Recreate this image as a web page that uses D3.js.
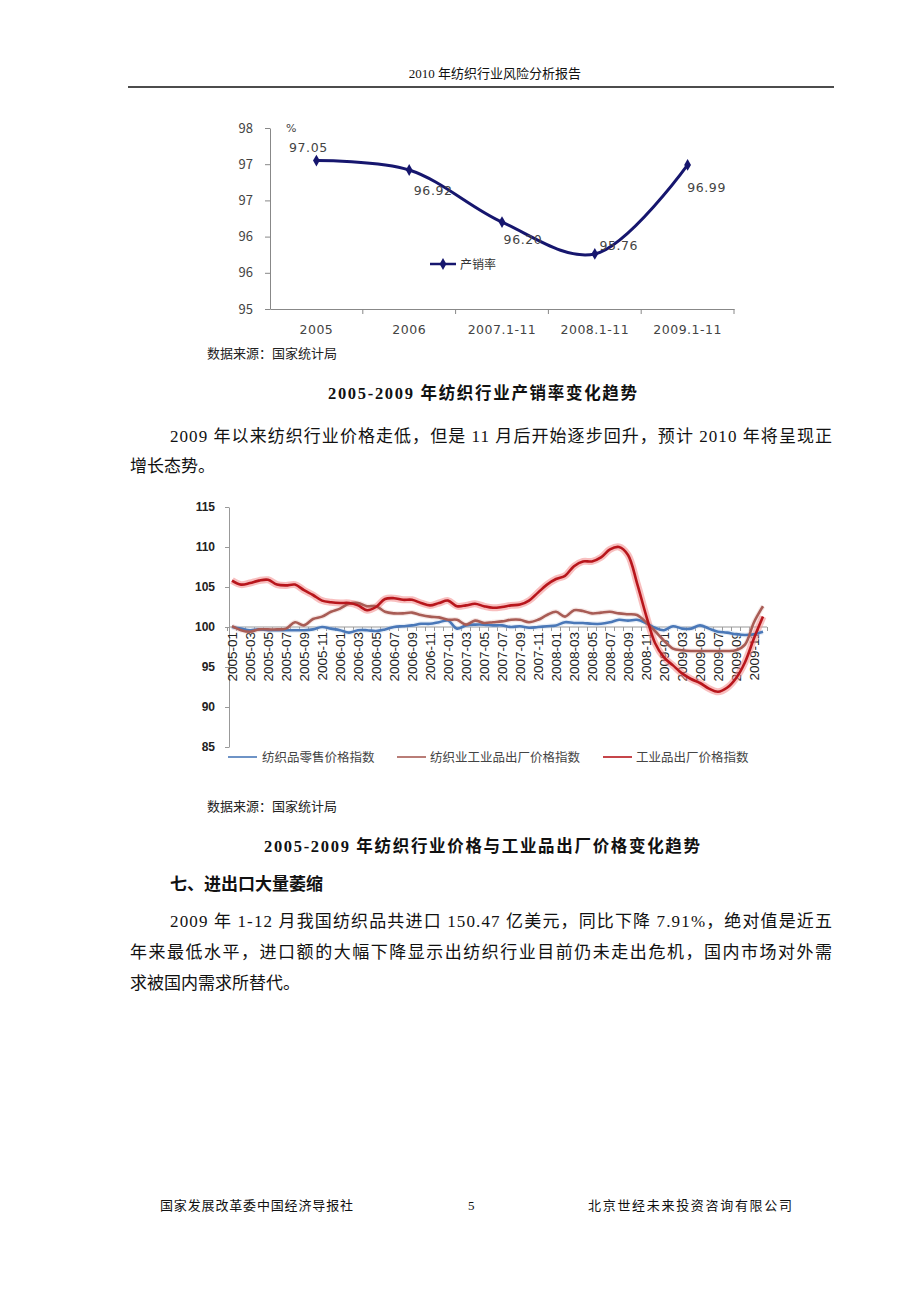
<!DOCTYPE html>
<html>
<head>
<meta charset="utf-8">
<script src="https://cdn.jsdelivr.net/npm/d3@7"></script>
<style>
  body { margin: 0; background: #fff; }
  svg { display: block; }
  .doc { font-family: "Liberation Serif", "Noto Sans CJK SC", serif; fill: #111; }
  .cjk { font-family: "Noto Sans CJK SC", "Liberation Sans", sans-serif; }
</style>
</head>
<body>
<script>
// ---- chart 1 : 产销率 ----
const years1 = ["2005", "2006", "2007.1-11", "2008.1-11", "2009.1-11"];
const rate1 = [97.05, 96.92, 96.20, 95.76, 96.99];
const ticks1 = [95, 95.5, 96, 96.5, 97, 97.5];

// ---- chart 2 : 价格指数 (2005-01 .. 2009-12) ----
const months2 = [];
for (let y = 2005; y <= 2009; y++) for (let m = 1; m <= 12; m++) months2.push(y + "-" + (m < 10 ? "0" + m : m));
const retail2 = [100.0, 99.8, 99.6, 99.7, 99.6, 99.6, 99.6, 99.6, 99.6, 99.7, 100.0, 99.8,
                 99.6, 99.3, 99.6, 99.6, 99.5, 99.7, 100.0, 100.1, 100.2, 100.4, 100.4, 100.6,
                 100.8, 99.8, 100.2, 100.3, 100.3, 100.2, 100.2, 100.0, 100.1, 99.9, 100.0, 100.1,
                 100.2, 100.6, 100.5, 100.5, 100.4, 100.4, 100.6, 100.9, 100.8, 100.9, 100.5, 99.9,
                 99.6, 100.1, 99.8, 99.8, 100.2, 99.8, 99.4, 99.3, 99.1, 99.0, 99.1, 99.4];
const textile2 = [100.1, 99.6, 99.4, 99.7, 99.7, 99.7, 99.8, 100.6, 100.2, 101.0, 101.3, 101.9,
                  102.3, 102.9, 103.0, 102.6, 102.6, 101.9, 101.7, 101.7, 101.8, 101.5, 101.3, 101.2,
                  100.9, 100.9, 100.3, 100.8, 100.5, 100.6, 100.7, 100.9, 100.9, 100.6, 100.9, 101.5,
                  101.9, 101.3, 102.1, 102.0, 101.7, 101.8, 101.9, 101.7, 101.6, 101.5, 100.6, 99.5,
                  98.3, 97.3, 97.1, 97.0, 97.0, 97.0, 97.0, 97.0, 97.1, 97.8, 100.6, 102.6];
const ppi2 = [105.8, 105.3, 105.5, 105.8, 105.9, 105.3, 105.2, 105.3, 104.6, 104.0, 103.3, 103.1,
              103.0, 103.0, 102.7, 102.1, 102.5, 103.5, 103.6, 103.4, 103.4, 103.0, 102.7, 103.0,
              103.3, 102.6, 102.7, 102.9, 102.6, 102.4, 102.5, 102.7, 102.8, 103.3, 104.3, 105.3,
              106.0, 106.4, 107.6, 108.2, 108.2, 108.7, 109.7, 110.0, 109.0, 105.5, 101.5, 98.0,
              96.2, 95.2, 94.2, 93.5, 93.0, 92.3, 91.9, 92.4, 93.6, 95.6, 98.6, 101.3];
const ticks2 = [85, 90, 95, 100, 105, 110, 115];
const series2 = [
  { name: "纺织品零售价格指数", values: retail2, color: "#4a78b8" },
  { name: "纺织业工业品出厂价格指数", values: textile2, color: "#a85c55" },
  { name: "工业品出厂价格指数", values: ppi2, color: "#b8161c" }
];

const svg = d3.select("body").append("svg")
  .attr("width", 920).attr("height", 1302);
svg.append("rect").attr("width", 920).attr("height", 1302).attr("fill", "#fff");

// ================= page text =================
const doc = svg.append("g").attr("class", "doc");
doc.append("text").attr("x", 495).attr("y", 78).attr("text-anchor", "middle")
  .attr("font-size", 13).text("2010 年纺织行业风险分析报告");
doc.append("line").attr("x1", 128).attr("x2", 834).attr("y1", 87).attr("y2", 87)
  .attr("stroke", "#111").attr("stroke-width", 1.6);

function docLine(txt, x, y, w, opts) {
  const t = doc.append("text").attr("x", x).attr("y", y)
    .attr("font-size", (opts && opts.size) || 17).text(txt);
  if (w) t.attr("textLength", w).attr("lengthAdjust", "spacing");
  if (opts && opts.bold) t.attr("font-weight", "bold");
  return t;
}
docLine("2005-2009 年纺织行业产销率变化趋势", 328, 399, 309, { bold: true, size: 16.5 });
docLine("2009 年以来纺织行业价格走低，但是 11 月后开始逐步回升，预计 2010 年将呈现正", 170, 442, 662);
docLine("增长态势。", 130, 472, null);
docLine("2005-2009 年纺织行业价格与工业品出厂价格变化趋势", 264, 852, 436, { bold: true, size: 16.5 });
docLine("七、进出口大量萎缩", 170, 890, null, { bold: true });
docLine("2009 年 1-12 月我国纺织品共进口 150.47 亿美元，同比下降 7.91%，绝对值是近五", 170, 927, 662);
docLine("年来最低水平，进口额的大幅下降显示出纺织行业目前仍未走出危机，国内市场对外需", 130, 958, 702);
docLine("求被国内需求所替代。", 130, 989, null);
docLine("国家发展改革委中国经济导报社", 160, 1210, 193, { size: 13 });
docLine("5", 468, 1210, null, { size: 13 });
docLine("北京世经未来投资咨询有限公司", 588, 1210, 204, { size: 13 });

// ================= chart 1 =================
svg.append("clipPath").attr("id", "clip1")
  .append("rect").attr("x", 150).attr("y", 110).attr("width", 620).attr("height", 227);
const c1 = svg.append("g").attr("clip-path", "url(#clip1)");

const x1 = d3.scaleBand().domain(years1).range([270, 734]);
const y1 = d3.scaleLinear().domain([95, 97.5]).range([309, 128]);

const axY1 = c1.append("g").attr("transform", "translate(270,0)")
  .call(d3.axisLeft(y1).tickValues(ticks1).tickFormat(d3.format(".0f")).tickSize(5).tickSizeOuter(0).tickPadding(12));
axY1.select(".domain").attr("stroke", "#888");
axY1.selectAll(".tick line").attr("stroke", "#888");
axY1.selectAll("text").attr("class", "cjk").attr("font-size", 13).attr("fill", "#444");

const axX1 = c1.append("g").attr("transform", "translate(0,309)")
  .call(d3.axisBottom(x1).tickSize(0).tickSizeOuter(0).tickPadding(16));
axX1.select(".domain").attr("stroke", "#888");
axX1.selectAll("text").attr("font-family", "DejaVu Sans").attr("font-size", 12.5)
  .attr("fill", "#444").attr("letter-spacing", 0.5);
// boundary ticks
c1.selectAll(".btick").data(years1.slice(1).concat(["end"])).join("line")
  .attr("x1", (d, i) => x1.range()[0] + x1.step() * (i + 1))
  .attr("x2", (d, i) => x1.range()[0] + x1.step() * (i + 1))
  .attr("y1", 309).attr("y2", 314).attr("stroke", "#888");

c1.append("text").attr("x", 286).attr("y", 132).attr("font-size", 11).attr("fill", "#444")
  .attr("font-family", "DejaVu Sans").text("%");

const line1 = d3.line()
  .x((d, i) => x1(years1[i]) + x1.bandwidth() / 2)
  .y(d => y1(d))
  .curve(d3.curveCatmullRom.alpha(0.5));
c1.append("path").datum(rate1).attr("d", line1)
  .attr("fill", "none").attr("stroke", "#16166e").attr("stroke-width", 3);

const diamond = d3.symbol().type(d3.symbolDiamond).size(40);
c1.selectAll(".pt").data(rate1).join("path")
  .attr("d", diamond)
  .attr("transform", (d, i) => `translate(${x1(years1[i]) + x1.bandwidth() / 2},${y1(d)})`)
  .attr("fill", "#16166e");

// data label offsets (layout only)
const lblOff1 = [[-8, -14], [24, 20], [21, 17], [24, -9], [19, 22]];
c1.selectAll(".lbl").data(rate1).join("text")
  .attr("x", (d, i) => x1(years1[i]) + x1.bandwidth() / 2 + lblOff1[i][0])
  .attr("y", (d, i) => y1(d) + lblOff1[i][1] + 5)
  .attr("text-anchor", "middle").attr("font-family", "DejaVu Sans")
  .attr("font-size", 12.5).attr("letter-spacing", 0.6).attr("fill", "#444")
  .text(d => d.toFixed(2));

// legend
c1.append("line").attr("x1", 430).attr("x2", 456).attr("y1", 264).attr("y2", 264)
  .attr("stroke", "#16166e").attr("stroke-width", 2.5);
c1.append("path").attr("d", diamond).attr("transform", "translate(443,264)").attr("fill", "#16166e");
c1.append("text").attr("class", "cjk").attr("x", 460).attr("y", 268.5).attr("font-size", 12)
  .attr("fill", "#333").text("产销率");

svg.append("text").attr("class", "cjk").attr("x", 207).attr("y", 358).attr("font-size", 13)
  .attr("fill", "#222").text("数据来源：国家统计局");

// ================= chart 2 =================
const c2 = svg.append("g");
const x2 = d3.scalePoint().domain(months2).range([232, 763]);
const y2 = d3.scaleLinear().domain([85, 115]).range([747, 507]);
const step2 = x2.step();

const axY2 = c2.append("g").attr("transform", "translate(229,0)")
  .call(d3.axisLeft(y2).tickValues(ticks2).tickSize(4).tickSizeOuter(0).tickPadding(10));
axY2.select(".domain").attr("stroke", "#999");
axY2.selectAll(".tick line").attr("stroke", "#999");
axY2.selectAll("text").attr("font-family", "Liberation Sans").attr("font-weight", "bold")
  .attr("font-size", 12).attr("fill", "#222");

// x axis at 100
const y100 = y2(100);
c2.append("line").attr("x1", 229).attr("x2", 767).attr("y1", y100).attr("y2", y100)
  .attr("stroke", "#999");
c2.selectAll(".mtick").data(d3.range(months2.length + 1)).join("line")
  .attr("x1", i => 232 - step2 / 2 + i * step2)
  .attr("x2", i => 232 - step2 / 2 + i * step2)
  .attr("y1", y100).attr("y2", y100 + 4).attr("stroke", "#999");
c2.selectAll(".mlbl").data(months2.filter((d, i) => i % 2 === 0)).join("text")
  .attr("transform", d => `translate(${x2(d) + 4.5},${y100 + 5}) rotate(-90)`)
  .attr("text-anchor", "end").attr("font-family", "Liberation Sans")
  .attr("font-size", 13.5).attr("fill", "#222").text(d => d);

const line2 = d3.line()
  .x((d, i) => x2(months2[i]))
  .y(d => y2(d))
  .curve(d3.curveCatmullRom.alpha(0.5));

// glow under the lines
series2.forEach((s, k) => {
  c2.append("path").datum(s.values).attr("d", line2).attr("fill", "none")
    .attr("stroke", k === 2 ? "#f28a8a" : (k === 1 ? "#e6b9b5" : "#bcd0ea"))
    .attr("stroke-opacity", k === 2 ? 0.55 : 0.35)
    .attr("stroke-width", k === 2 ? 7 : 5).attr("stroke-linejoin", "round");
});
series2.forEach(s => {
  c2.append("path").datum(s.values).attr("d", line2).attr("fill", "none")
    .attr("stroke", s.color).attr("stroke-width", 2.6).attr("stroke-linejoin", "round");
});

// legend
const legX2 = [[228, 262], [397, 430], [603, 636]];
series2.forEach((s, k) => {
  c2.append("line").attr("x1", legX2[k][0]).attr("x2", legX2[k][0] + 29)
    .attr("y1", 757).attr("y2", 757).attr("stroke", s.color).attr("stroke-width", 1.6);
  c2.append("text").attr("class", "cjk").attr("x", legX2[k][1]).attr("y", 761.5)
    .attr("font-size", 12.5).attr("fill", "#444").text(s.name);
});

svg.append("text").attr("class", "cjk").attr("x", 207).attr("y", 811).attr("font-size", 13)
  .attr("fill", "#222").text("数据来源：国家统计局");
</script>
</body>
</html>
